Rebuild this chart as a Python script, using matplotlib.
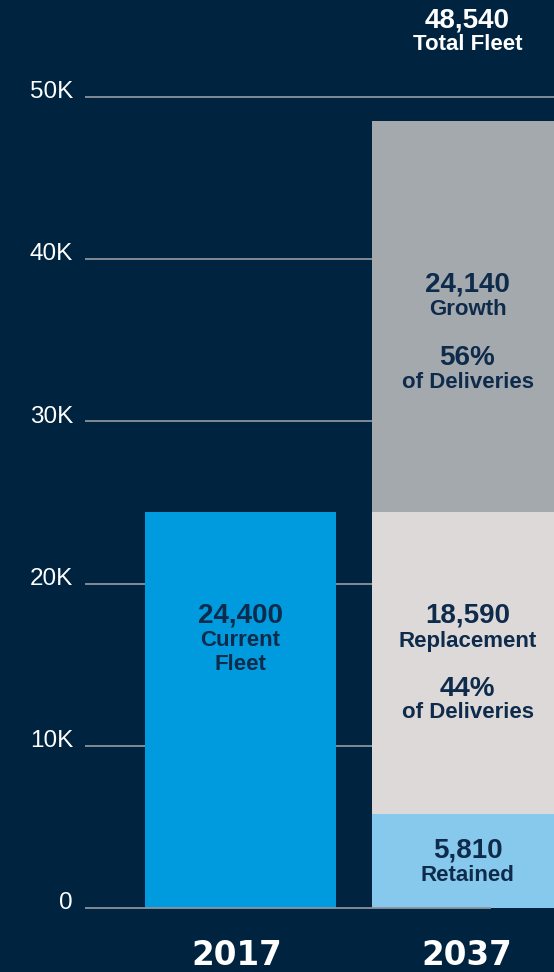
import matplotlib
matplotlib.use("Agg")
import matplotlib.pyplot as plt

plt.rcParams['font.family'] = ['Liberation Sans', 'DejaVu Sans']

# ---- data ----
years = ["2017", "2037"]
current_fleet = 24400
retained = 5810
replacement = 18590
growth = 24140
total_fleet = 48540
share_growth = "56%"
share_replacement = "44%"
y_ticks = [0, 10000, 20000, 30000, 40000, 50000]
y_tick_labels = ["0", "10K", "20K", "30K", "40K", "50K"]

# ---- style ----
BG = "#00233F"
BLUE = "#009BDE"
GRAY = "#A4A9AD"
LIGHT = "#DDD9D8"
SKY = "#87C9EC"
TXT = "#0E2B4C"
GRID = "#8C939B"

W, H = 554, 972
fig = plt.figure(figsize=(W / 100, H / 100), dpi=100, facecolor=BG)
ax = fig.add_axes([0, 0, 1, 1])
ax.set_facecolor(BG)

# pixel geometry -> data
px_per_unit = (908 - 97) / 50000.0
ax.set_ylim(-(H - 908) / px_per_unit, 908 / px_per_unit)
spacing = 227.0
x0_px = 240.5
ax.set_xlim(-x0_px / spacing, (W - x0_px) / spacing)
def xd(px):
    return (px - x0_px) / spacing

width = 191 / spacing
x = [0, 1]

# gridlines (behind bars)
ax.hlines(y_ticks[1:], xd(85), xd(W), color=GRID, lw=1.3, zorder=1)

# bars
ax.bar(x[0], current_fleet, width=width, color=BLUE, zorder=2)
ax.bar(x[1], retained, width=width, color=SKY, zorder=2)
ax.bar(x[1], replacement, bottom=retained, width=width, color=LIGHT, zorder=2)
ax.bar(x[1], growth, bottom=retained + replacement, width=width, color=GRAY, zorder=2)

# baseline
ax.hlines(0, xd(85), xd(491), color=GRID, lw=1.3, zorder=3)

ax.axis("off")

# y tick labels
for v, lab in zip(y_ticks, y_tick_labels):
    ax.annotate(lab, xy=(xd(73), v), xytext=(0, 3.5), textcoords="offset points",
                ha="right", va="center", color="white", fontsize=17.5)

def fx(px):
    return px / W
def fy(px):
    return 1 - px / H

def label(xpx, ypx, s, size, color=TXT, family=None, va="center"):
    kw = {}
    if family:
        kw["family"] = family
    fig.text(fx(xpx), fy(ypx), s, ha="center", va=va, color=color,
             fontsize=size, fontweight="bold", **kw)

NUM = 20
LAB = 16
cx1, cx2 = 240.5, 467.5
# 2017 bar
label(cx1, 615, f"{current_fleet:,}", NUM)
label(cx1, 641, "Current", LAB)
label(cx1, 664, "Fleet", LAB)
# growth
label(cx2, 284, f"{growth:,}", NUM)
label(cx2, 309, "Growth", LAB)
label(cx2, 358, share_growth, NUM)
label(cx2, 382, "of Deliveries", LAB)
# replacement
label(cx2, 615, f"{replacement:,}", NUM)
label(cx2, 641, "Replacement", LAB)
label(cx2, 689, share_replacement, NUM)
label(cx2, 713, "of Deliveries", LAB)
# retained
label(cx2, 850, f"{retained:,}", NUM)
label(cx2, 875, "Retained", LAB)
# total
label(cx2, 20, f"{total_fleet:,}", NUM, color="white")
label(cx2, 45, "Total Fleet", LAB, color="white")

# years
label(236.5, 965, years[0], 23.5, color="white", family=["DejaVu Sans"], va="baseline")
label(467, 965, years[1], 23.5, color="white", family=["DejaVu Sans"], va="baseline")

fig.savefig("out.png", dpi=100, facecolor=BG)
